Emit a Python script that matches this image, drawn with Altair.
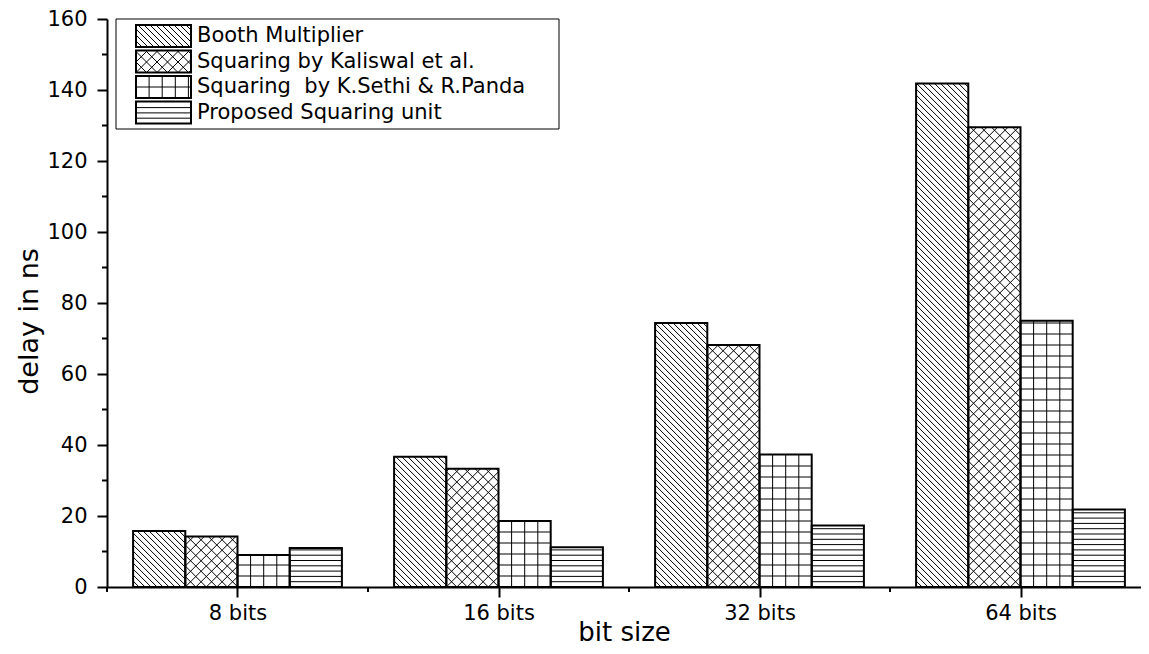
import json
import altair as alt
import pandas as pd

# ---------------- data ----------------
categories = ["8 bits", "16 bits", "32 bits", "64 bits"]
series = [
    "Booth Multiplier",
    "Squaring by Kaliswal et al.",
    "Squaring \u00a0by K.Sethi & R.Panda",
    "Proposed Squaring unit",
]
booth = [15.8, 36.7, 74.4, 141.8]
kaliswal = [14.2, 33.3, 68.2, 129.5]
sethi = [9.0, 18.6, 37.3, 75.0]
proposed = [11.0, 11.2, 17.3, 21.8]
values = [booth, kaliswal, sethi, proposed]

y_ticks = list(range(0, 161, 20))
y_minor = list(range(10, 160, 20))

# ---------------- layout / style constants ----------------
FONT = "DejaVu Sans"
W, H = 1034, 568
XMIN = -0.5
PXU = 261.0                      # pixels per group unit
XMAX = XMIN + W / PXU
YMAX = 160
PYU = H / YMAX                   # pixels per ns
BAR_W = 0.2

# hatch patterns per series: (kind, spacing in px)
patterns = [
    [("down", 6.0)],
    [("down", 10.5), ("up", 10.5)],
    [("vert", 13.1), ("horiz", 11.0)],
    [("horiz", 5.3)],
]


def px(x):
    return (x - XMIN) * PXU


def py(v):
    return v * PYU


def ux(p):
    return p / PXU + XMIN


def uy(p):
    return p / PYU


def hatch(x0, x1, y0, y1, kinds):
    """segments in pixel space (y up) clipped to the rectangle"""
    segs = []
    for kind, st in kinds:
        if kind == "down":  # x + y = c
            c = x0 + y0 + st
            while c < x1 + y1:
                xa, xb = max(x0, c - y1), min(x1, c - y0)
                if xb - xa > 0.3:
                    segs.append((xa, c - xa, xb, c - xb))
                c += st
        elif kind == "up":  # x - y = c
            c = x0 - y0
            while c > x0 - y1:
                c -= st
            c += st
            while c < x1 - y0:
                xa, xb = max(x0, c + y0), min(x1, c + y1)
                if xb - xa > 0.3:
                    segs.append((xa, xa - c, xb, xb - c))
                c += st
        elif kind == "vert":
            x = x0 + st
            while x < x1 - 1:
                segs.append((x, y0, x, y1))
                x += st
        elif kind == "horiz":
            y = y0 + st
            while y < y1 - 1:
                segs.append((x0, y, x1, y))
                y += st
    return segs


# ---------------- tables built from the arrays ----------------
bar_rows, hatch_rows = [], []
for s, name in enumerate(series):
    for g, cat in enumerate(categories):
        x0 = g - 2 * BAR_W + s * BAR_W
        x1 = x0 + BAR_W
        v = values[s][g]
        bar_rows.append({"x0": x0, "x1": x1, "y0": 0.0, "y1": v, "series": name, "cat": cat})
        for a, b, c, d in hatch(px(x0), px(x1), py(0), py(v), patterns[s]):
            hatch_rows.append({"x0": ux(a), "y0": uy(b), "x1": ux(c), "y1": uy(d)})

# legend (pixel geometry relative to plot top-left, y down)
LEG_L, LEG_R, LEG_T, LEG_B = 9, 452, 0, 110
SW_L, SW_R, SW_H, ROW0, ROW_STEP, TXT_X = 29, 84, 22, 6, 25.5, 90
legend_box = pd.DataFrame([{"x0": ux(LEG_L), "x1": ux(LEG_R), "y0": uy(H - LEG_B), "y1": uy(H - LEG_T)}])
sw_rows, txt_rows = [], []
for s, name in enumerate(series):
    top = ROW0 + s * ROW_STEP
    bot = top + SW_H
    sw_rows.append({"x0": ux(SW_L), "x1": ux(SW_R), "y0": uy(H - bot), "y1": uy(H - top)})
    txt_rows.append({"x0": ux(TXT_X), "y0": uy(H - (top + bot) / 2), "label": name})
    for a, b, c, d in hatch(SW_L, SW_R, H - bot, H - top, patterns[s]):
        hatch_rows.append({"x0": ux(a), "y0": uy(b), "x1": ux(c), "y1": uy(d)})

bars = pd.DataFrame(bar_rows)
hatches = pd.DataFrame(hatch_rows)
swatches = pd.DataFrame(sw_rows)
texts = pd.DataFrame(txt_rows)
minor_y = pd.DataFrame({"y0": y_minor})
minor_x = pd.DataFrame({"x0": [g - 0.5 for g in range(len(categories))]})

# ---------------- scales / axes ----------------
xscale = alt.Scale(domain=[XMIN, XMAX], nice=False, zero=False)
yscale = alt.Scale(domain=[0, YMAX], nice=False, zero=True)

label_expr = json.dumps(categories) + "[datum.value]"
xaxis = alt.Axis(
    values=list(range(len(categories))), labelExpr=label_expr, title="bit size",
    grid=False, tickSize=10, tickWidth=2, domainWidth=2, domainColor="black",
    tickColor="black", labelColor="black", labelFont=FONT, labelFontSize=21,
    labelPadding=5, titleFont=FONT, titleFontSize=26, titleFontWeight="normal",
    titleColor="black", titleY=53, titleBaseline="alphabetic",
)
yaxis = alt.Axis(
    values=y_ticks, title="delay in ns", grid=False, tickSize=10, tickWidth=2,
    domainWidth=2, domainColor="black", tickColor="black", labelColor="black",
    labelFont=FONT, labelFontSize=21, labelPadding=10, titleFont=FONT,
    titleFontSize=27, titleFontWeight="normal", titleColor="black",
    titleAngle=270, titleBaseline="bottom", titleX=-64, titleY=302,
)


def X(f="x0"):
    return alt.X(f, type="quantitative", scale=xscale, axis=xaxis)


def Y(f="y0"):
    return alt.Y(f, type="quantitative", scale=yscale, axis=yaxis)


bar_fill = alt.Chart(bars).mark_rect(fill="white", strokeWidth=0).encode(
    x=X(), x2="x1", y=Y(), y2="y1")
hatch_layer = alt.Chart(hatches).mark_rule(color="black", strokeWidth=1).encode(
    x=X(), x2="x1", y=Y(), y2="y1")
bar_outline = alt.Chart(bars).mark_rect(fillOpacity=0, stroke="black", strokeWidth=2).encode(
    x=X(), x2="x1", y=Y(), y2="y1")

legend_bg = alt.Chart(legend_box).mark_rect(fill="white", stroke="black", strokeWidth=1).encode(
    x=X(), x2="x1", y=Y(), y2="y1")
sw_fill = alt.Chart(swatches).mark_rect(fill="white", strokeWidth=0).encode(
    x=X(), x2="x1", y=Y(), y2="y1")
sw_outline = alt.Chart(swatches).mark_rect(fillOpacity=0, stroke="black", strokeWidth=2).encode(
    x=X(), x2="x1", y=Y(), y2="y1")
legend_text = alt.Chart(texts).mark_text(
    align="left", baseline="middle", font=FONT, fontSize=21, color="black"
).encode(x=X(), y=Y(), text="label:N")

minor_y_layer = alt.Chart(minor_y).mark_rule(color="black", strokeWidth=2).encode(
    y=Y(), x=alt.value(-5), x2=alt.value(0))
minor_x_layer = alt.Chart(minor_x).mark_rule(color="black", strokeWidth=2).encode(
    x=X(), y=alt.value(H), y2=alt.value(H + 5))

chart = alt.layer(
    legend_bg, bar_fill, sw_fill, hatch_layer, bar_outline, sw_outline,
    legend_text, minor_y_layer, minor_x_layer,
).properties(
    width=W, height=H,
    autosize=alt.AutoSizeParams(type="none"),
    padding={"left": 99, "top": 11, "right": 0, "bottom": 59},
    background="white",
).configure_view(stroke=None)

chart.save("out.html", embed_options={"renderer": "svg", "actions": False})
